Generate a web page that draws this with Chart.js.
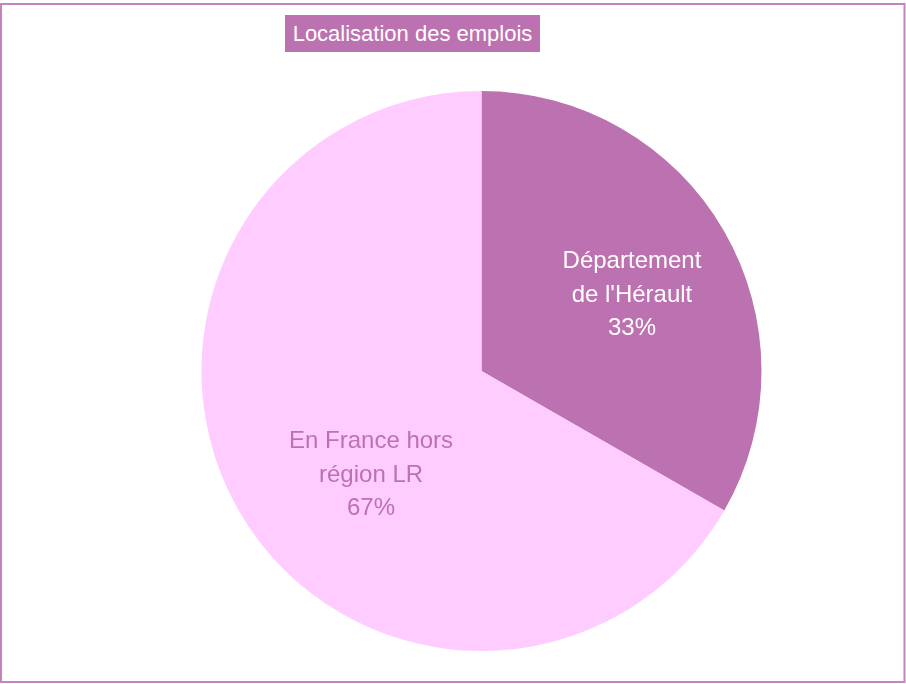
<!DOCTYPE html>
<html>
<head>
<meta charset="utf-8">
<script src="https://cdn.jsdelivr.net/npm/chart.js@4.4.0/dist/chart.umd.min.js"></script>
<style>
  html, body { margin: 0; padding: 0; background: #ffffff; }
  #wrap { position: relative; width: 906px; height: 684px; }
  #title {
    position: absolute; left: 285px; top: 15px; width: 255px; height: 37px;
    background: #BC72B0; color: #ffffff;
    font-family: "Liberation Sans", Arial, sans-serif; font-size: 22px;
    line-height: 38px; text-align: center; white-space: nowrap;
  }
</style>
</head>
<body>
<div id="wrap">
  <canvas id="c" width="906" height="684"></canvas>
  <div id="title">Localisation des emplois</div>
</div>
<script>
const categories = [["Département", "de l'Hérault"], ["En France hors", "région LR"]];
const values = [33.3, 66.7];
const sliceColors = ["#BC72B0", "#FFCCFF"];
const labelColors = ["#FFFFFF", "#BC72B0"];

// label placement tweaks (radius fraction, angle shift in radians) – style only
const labelRadius = [0.602, 0.542];
const labelAngleShift = [0.057, -0.231];

const frame = {
  id: 'frame',
  beforeDraw(chart) {
    const ctx = chart.ctx;
    ctx.save();
    ctx.strokeStyle = '#C583C0';
    ctx.lineWidth = 2;
    ctx.strokeRect(1, 4, 903.5, 678);
    ctx.restore();
  }
};

const sliceLabels = {
  id: 'sliceLabels',
  afterDatasetsDraw(chart) {
    const ctx = chart.ctx;
    const meta = chart.getDatasetMeta(0);
    const total = values.reduce((a, b) => a + b, 0);
    ctx.save();
    ctx.font = '24px "Liberation Sans", Arial, sans-serif';
    ctx.textAlign = 'center';
    ctx.textBaseline = 'middle';
    meta.data.forEach((arc, i) => {
      const p = arc.getProps(['x', 'y', 'startAngle', 'endAngle', 'outerRadius'], true);
      const mid = (p.startAngle + p.endAngle) / 2 + labelAngleShift[i];
      const r = p.outerRadius * labelRadius[i];
      const cx = p.x + Math.cos(mid) * r;
      const cy = p.y + Math.sin(mid) * r;
      const lines = categories[i].concat([Math.round(values[i] / total * 100) + '%']);
      const lh = 33.5;
      ctx.fillStyle = labelColors[i];
      lines.forEach((t, k) => {
        ctx.fillText(t, cx, cy + (k - (lines.length - 1) / 2) * lh);
      });
    });
    ctx.restore();
  }
};

new Chart(document.getElementById('c'), {
  type: 'pie',
  data: {
    labels: categories.map(c => c.join(' ')),
    datasets: [{
      data: values,
      backgroundColor: sliceColors,
      borderWidth: 0,
      hoverOffset: 0
    }]
  },
  options: {
    responsive: false,
    animation: false,
    layout: { padding: { left: 201.5, right: 144.5, top: 91, bottom: 33 } },
    plugins: {
      legend: { display: false },
      title: { display: false },
      tooltip: { enabled: false }
    }
  },
  plugins: [frame, sliceLabels]
});
</script>
</body>
</html>
